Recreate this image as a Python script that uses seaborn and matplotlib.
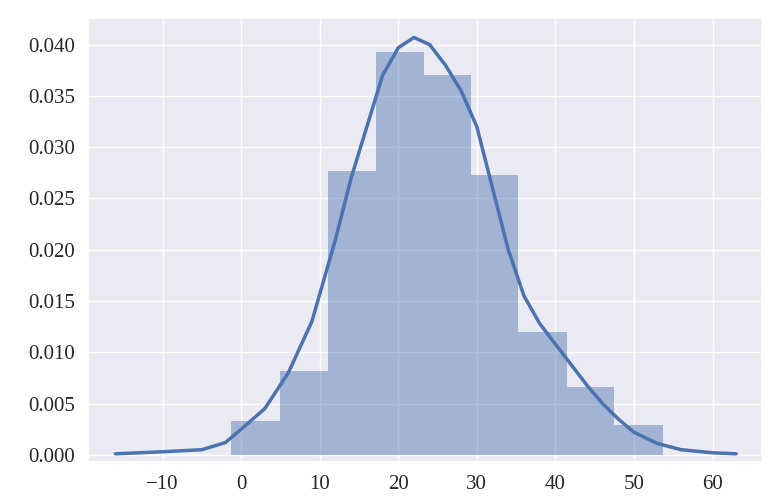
import numpy as np
import pandas as pd
import matplotlib
matplotlib.use('Agg')
import matplotlib.pyplot as plt
import seaborn as sns

# histogram bins (edges) and density heights
bin_edges = [-1.25, 4.9, 11.1, 17.2, 23.3, 29.2, 35.3, 41.5, 47.5, 53.7]
bin_heights = [0.0033, 0.0082, 0.0277, 0.0393, 0.0370, 0.0273, 0.0120, 0.0066, 0.0029]

# kde curve points
kde_x = [-16, -10, -5, -2, 0, 3, 6, 9, 12, 14, 16, 18, 20, 22, 24, 26, 28, 30,
         32, 34, 36, 38, 40, 42, 44, 46, 48, 50, 53, 56, 60, 63]
kde_y = [0.0001, 0.0003, 0.0005, 0.0012, 0.0025, 0.0045, 0.0080, 0.0130, 0.0210,
         0.0270, 0.0320, 0.0370, 0.0397, 0.0407, 0.0400, 0.0380, 0.0355, 0.0320,
         0.0260, 0.0200, 0.0155, 0.0128, 0.0108, 0.0088, 0.0068, 0.0050, 0.0035,
         0.0022, 0.0011, 0.0005, 0.0002, 0.0001]

sns.set_theme(style='darkgrid')
plt.rcParams['font.family'] = ['Liberation Serif', 'DejaVu Sans']

centers = [(a + b) / 2 for a, b in zip(bin_edges[:-1], bin_edges[1:])]
hist = pd.DataFrame({'x': centers, 'w': bin_heights})
kde = pd.DataFrame({'x': kde_x, 'y': kde_y})

fig = plt.figure(figsize=(7.8, 4.99), dpi=100)
ax = fig.add_axes([88/780, 37/499, 674/780, 444/499])
sns.histplot(data=hist, x='x', weights='w', bins=bin_edges, stat='count',
             color='#4c72b0', alpha=0.45, edgecolor='none', linewidth=0, ax=ax)
sns.lineplot(data=kde, x='x', y='y', color='#4c72b0', linewidth=2.5, ax=ax)

ax.set_xlim(-19.5, 66.3)
ax.set_ylim(-0.0007, 0.0426)
ax.set_xticks(range(-10, 61, 10))
ax.set_yticks(np.arange(0, 0.0401, 0.005))
ax.set_yticklabels([f'{v:.3f}' for v in np.arange(0, 0.0401, 0.005)])
ax.set_xticklabels([str(t).replace('-', '\u2212') for t in range(-10, 61, 10)])
ax.tick_params(labelsize=15)
ax.set_xlabel('')
ax.set_ylabel('')

fig.savefig('out.png', dpi=100)
